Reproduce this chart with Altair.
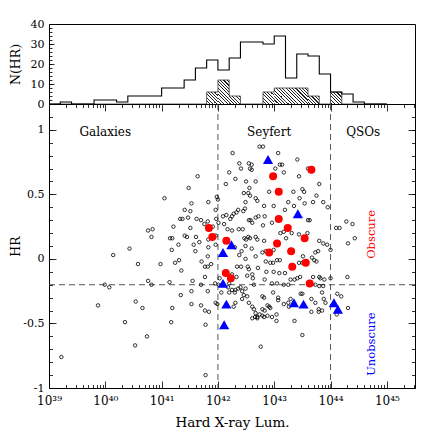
import math
import altair as alt
import pandas as pd

# ---------------- data ----------------
hist_bin_lo = [39.0, 39.2, 39.4, 39.6, 39.8, 40.0, 40.2, 40.4, 40.6, 40.8,
               41.0, 41.2, 41.4, 41.6, 41.8, 42.0, 42.2, 42.4, 42.6, 42.8,
               43.0, 43.2, 43.4, 43.6, 43.8, 44.0, 44.2, 44.4, 44.6, 44.8]
hist_all = [0, 1, 0, 0, 2, 2, 1, 4, 4, 4,
            8, 8, 12, 18, 22, 17, 23, 31, 31, 30,
            34, 13, 25, 24, 15, 6, 5, 1, 0, 0]
hist_hatched = [0, 0, 0, 0, 0, 0, 0, 0, 0, 0,
                0, 0, 0, 0, 6, 12, 4, 0, 0, 6,
                8, 8, 8, 4, 0, 6, 0, 0, 0, 0]
BIN_W = 0.2

open_pts = [
    (41.64, 0.64), (41.48, 0.55), (41.05, 0.47), (41.53, 0.43), (41.41, 0.38), (41.51, 0.37),
    (41.33, 0.31), (41.37, 0.31), (41.47, 0.32), (41.62, 0.31), (41.70, 0.30), (41.21, 0.25),
    (41.51, 0.24), (40.76, 0.22), (40.84, 0.23), (40.82, 0.17), (41.15, 0.16), (41.19, 0.16),
    (41.41, 0.18), (41.45, 0.17), (41.61, 0.17), (41.67, 0.13), (41.57, 0.11), (41.30, 0.11),
    (40.43, 0.08), (41.18, 0.07), (41.60, 0.06), (40.14, 0.03), (40.58, -0.04), (40.98, -0.04),
    (41.24, -0.03), (41.31, -0.01), (41.71, -0.02),
    (41.35, -0.09), (39.99, -0.20), (40.07, -0.22), (40.76, -0.17), (40.82, -0.20), (41.14, -0.18),
    (41.55, -0.17), (41.70, -0.20), (41.34, -0.28), (41.53, -0.25), (39.87, -0.36), (40.54, -0.33),
    (40.66, -0.38), (41.19, -0.38), (41.53, -0.35), (41.70, -0.36), (41.77, -0.40), (41.84, -0.41),
    (40.35, -0.49), (41.17, -0.49), (41.78, -0.51), (40.74, -0.60), (40.53, -0.67), (41.78, -0.90),
    (39.22, -0.76), (41.82, 0.02), (41.77, -0.06), (41.82, -0.06), (41.88, -0.04), (41.96, -0.34),
    (42.74, 0.87), (42.80, 0.87), (42.26, 0.82), (43.07, 0.82), (42.38, 0.74), (42.55, 0.74),
    (42.60, 0.73), (43.10, 0.73), (43.14, 0.73), (42.41, 0.70), (42.57, 0.70), (42.60, 0.69),
    (42.20, 0.67), (43.02, 0.70), (43.17, 0.67), (42.31, 0.62), (42.50, 0.60), (42.67, 0.60),
    (42.14, 0.58), (42.56, 0.55), (42.91, 0.52), (42.54, 0.51), (42.57, 0.49), (42.46, 0.51),
    (42.67, 0.47), (42.70, 0.45), (42.49, 0.44), (42.82, 0.41), (42.99, 0.41), (41.83, 0.44),
    (41.98, 0.48), (42.00, 0.46), (42.48, 0.39), (43.19, 0.38), (41.96, 0.38), (42.33, 0.36),
    (42.36, 0.38), (42.09, 0.33), (42.15, 0.34), (42.28, 0.35), (42.25, 0.33), (42.22, 0.31),
    (41.97, 0.31), (42.01, 0.28), (42.67, 0.32), (42.72, 0.33), (42.83, 0.33), (42.45, 0.37),
    (41.82, 0.29), (42.55, 0.30), (42.58, 0.30), (42.61, 0.28), (42.11, 0.27), (41.91, 0.25),
    (42.44, 0.23), (42.80, 0.26), (42.96, 0.28), (41.76, 0.27), (41.96, 0.18), (42.17, 0.23),
    (42.25, 0.22), (42.37, 0.23), (42.54, 0.17), (42.57, 0.16), (42.47, 0.16), (42.50, 0.15),
    (42.67, 0.17), (42.70, 0.15), (41.83, 0.15), (42.30, 0.09), (42.42, 0.06), (42.38, 0.03),
    (42.49, 0.10), (42.60, 0.08), (42.82, 0.14), (42.79, 0.05), (42.85, 0.06), (42.99, 0.07),
    (43.11, 0.20), (43.17, 0.21), (43.21, 0.16), (41.83, 0.09), (41.96, 0.11), (42.67, 0.02),
    (42.49, 0.00), (43.10, -0.01), (43.05, -0.01), (42.85, -0.02), (42.93, -0.03), (42.98, -0.03),
    (43.41, 0.77), (43.60, 0.70), (43.44, 0.64), (43.80, 0.58), (43.50, 0.54), (43.53, 0.52),
    (43.34, 0.52), (43.75, 0.49), (43.45, 0.47), (43.25, 0.44), (43.35, 0.41), (43.54, 0.43),
    (43.69, 0.44), (43.87, 0.44), (43.95, 0.40), (43.60, 0.30), (43.63, 0.30), (43.31, 0.20),
    (43.44, 0.19), (43.59, 0.20), (43.80, 0.14), (43.87, 0.12), (43.94, 0.11), (44.00, 0.07),
    (43.78, 0.06), (43.73, 0.05), (43.51, 0.02), (43.67, 0.01), (43.71, -0.01), (43.75, -0.02),
    (43.44, -0.03), (44.10, 0.24), (44.16, 0.24), (44.28, 0.29), (44.39, 0.27), (44.43, 0.16),
    (44.31, 0.12),
    (41.77, -0.14), (42.03, -0.15), (41.95, -0.19), (42.01, -0.20), (41.82, -0.25), (42.06, -0.26),
    (42.20, -0.26), (42.25, -0.24), (42.31, -0.24), (42.30, -0.26), (42.36, -0.23), (42.20, -0.19),
    (42.18, -0.22), (42.34, -0.06), (42.41, -0.06), (42.53, -0.06), (42.55, -0.08), (42.71, -0.07),
    (42.25, -0.12), (42.33, -0.14), (42.52, -0.13), (42.61, -0.12), (42.62, -0.15), (42.40, -0.22),
    (42.43, -0.25), (42.49, -0.23), (42.46, -0.28), (42.43, -0.31), (42.52, -0.29), (42.64, -0.20),
    (42.83, -0.16), (42.86, -0.10), (42.99, -0.10), (43.09, -0.11), (43.19, -0.11), (42.96, -0.19),
    (43.05, -0.19), (43.17, -0.20), (43.25, -0.20), (42.79, -0.29), (42.82, -0.30), (42.98, -0.26),
    (43.07, -0.30), (43.07, -0.32), (43.17, -0.35), (43.25, -0.34), (42.55, -0.34), (42.61, -0.37),
    (42.64, -0.39), (42.67, -0.42), (42.70, -0.45), (42.31, -0.34), (42.28, -0.37), (41.99, -0.35),
    (42.88, -0.36), (42.91, -0.37), (42.93, -0.38), (42.79, -0.39), (42.83, -0.40), (42.74, -0.43),
    (42.79, -0.44), (42.82, -0.45), (42.61, -0.46), (42.66, -0.45), (42.70, -0.46), (42.88, -0.44),
    (42.96, -0.45), (43.04, -0.43), (43.04, -0.48), (42.76, -0.68),
    (43.50, -0.03), (43.29, -0.16), (43.36, -0.16), (43.41, -0.15), (43.46, -0.14), (43.69, -0.14),
    (43.80, -0.14), (43.82, -0.15), (43.89, -0.16), (44.00, -0.15), (44.30, -0.14), (43.73, -0.20),
    (43.80, -0.21), (43.87, -0.21), (43.85, -0.26), (43.47, -0.27), (43.50, -0.27), (44.12, -0.27),
    (44.19, -0.29), (43.66, -0.31), (43.73, -0.34), (43.88, -0.31), (43.91, -0.34), (43.26, -0.37),
    (43.29, -0.31), (43.66, -0.41), (43.79, -0.39), (43.79, -0.41), (43.85, -0.40), (44.31, -0.38),
    (44.11, -0.43), (43.36, -0.48), (43.50, -0.59),
]

obscure_pts = [
    (42.98, 0.64), (43.08, 0.52), (43.08, 0.31), (43.24, 0.24), (43.05, 0.12), (42.91, 0.05),
    (41.84, 0.24), (41.90, 0.17), (42.15, 0.14), (43.30, 0.06), (43.66, 0.69), (43.54, 0.16),
    (43.56, -0.03), (43.32, -0.06), (43.63, -0.19), (42.14, -0.11), (42.23, -0.15),
]

unobscure_pts = [
    (42.89, 0.77), (43.42, 0.35), (42.24, 0.11), (42.09, 0.05), (42.09, -0.19), (42.15, -0.35),
    (42.11, -0.51), (43.35, -0.34), (43.52, -0.35), (44.06, -0.34), (44.13, -0.39),
]

x_tick_values = [39, 40, 41, 42, 43, 44, 45]
x_tick_labels = ["10³⁹", "10⁴⁰", "10⁴¹", "10⁴²", "10⁴³", "10⁴⁴", "10⁴⁵"]
y_tick_values = [-1, -0.5, 0, 0.5, 1]
y_tick_labels = ["-1", "-0.5", "0", "0.5", "1"]
hist_tick_values = [0, 10, 20, 30, 40]

class_bounds = [42, 44]
hr_split = [-0.2]

region_text = ["Galaxies", "Seyfert", "QSOs"]
region_x = [40.0, 42.91, 44.58]
region_y = [0.98, 0.98, 0.98]

class_text = ["Obscure", "Unobscure"]
class_x = [44.74, 44.74]
class_y = [0.19, -0.66]
class_color = ["#ff0000", "#0000ff"]

# ---------------- layout / style ----------------
FONT = "DejaVu Serif"
W = 366
H_HIST = 80
H_SC = 284
X_DOM = [39, 45.5]
Y_DOM = [-1, 1.2]
H_DOM = [0, 40]
PX_PER_X = W / (X_DOM[1] - X_DOM[0])

x_minor = [d + math.log10(k) for d in range(39, 46) for k in range(2, 10)
           if d + math.log10(k) <= X_DOM[1]]
y_minor = [round(-1 + 0.1 * i, 1) for i in range(23)]
hist_minor = list(range(0, 41, 2))

xscale = alt.Scale(domain=X_DOM, nice=False, zero=False)
yscale = alt.Scale(domain=Y_DOM, nice=False, zero=False)
hscale = alt.Scale(domain=H_DOM, nice=False)


def label_expr(values, labels):
    expr = "''"
    for v, lab in reversed(list(zip(values, labels))):
        expr = f"datum.value == {v} ? '{lab}' : ({expr})"
    return expr


def tick_axis(orient, offset, values, size):
    return alt.Axis(orient=orient, offset=offset, values=values, tickSize=size,
                    tickWidth=0.8, tickColor="black", labels=False, domain=False,
                    grid=False, title=None)


def hatch_gradient(x0, w, h, panel_h, spacing=3.3, lw=1.1):
    span = w + h
    shift = x0 - (panel_h - h)
    c = (-shift) % spacing - spacing
    stops = [alt.GradientStop(color="white", offset=0)]
    while c < span:
        a = max(c, 0) / span
        b = min(max(c + lw, 0), span) / span
        if b > a:
            stops += [alt.GradientStop(color="white", offset=a),
                      alt.GradientStop(color="#222222", offset=a),
                      alt.GradientStop(color="#222222", offset=b),
                      alt.GradientStop(color="white", offset=b)]
        c += spacing
    stops.append(alt.GradientStop(color="white", offset=1))
    lam = span / (w * w + h * h)
    return alt.LinearGradient(gradient="linear", stops=stops,
                              x1=0, y1=1, x2=lam * w, y2=1 - lam * h)


# ---------------- histogram panel ----------------
hist_layers = []
for lo, n in zip(hist_bin_lo, hist_hatched):
    if n <= 0:
        continue
    w_px = BIN_W * PX_PER_X
    h_px = n * H_HIST / (H_DOM[1] - H_DOM[0])
    x0_px = (lo - X_DOM[0]) * PX_PER_X
    df_bin = pd.DataFrame({"lo": [lo], "hi": [lo + BIN_W], "n": [n]})
    hist_layers.append(
        alt.Chart(df_bin).mark_rect(fill=hatch_gradient(x0_px, w_px, h_px, H_HIST)).encode(
            x=alt.X("lo:Q", scale=xscale, axis=None),
            x2="hi:Q",
            y=alt.Y("n:Q", scale=hscale, axis=None),
            y2=alt.datum(0),
        )
    )

edges = hist_bin_lo + [hist_bin_lo[-1] + BIN_W]
df_step_all = pd.DataFrame({"lum": edges, "n": hist_all + [hist_all[-1]]})
df_step_hat = pd.DataFrame({"lum": edges, "n": hist_hatched + [hist_hatched[-1]]})

hist_y_axis = alt.Axis(orient="left", values=hist_tick_values, ticks=False, tickSize=0,
                       domain=False, grid=False, title="N(HR)", labelPadding=5,
                       titlePadding=3, minExtent=24, maxExtent=24, labelFontSize=11,
                       titleFontSize=12.5, labelFlush=False, labelOverlap=False)

hat_line = alt.Chart(df_step_hat).mark_line(interpolate="step-after", color="#222222",
                                             strokeWidth=0.7).encode(
    x=alt.X("lum:Q", scale=xscale, axis=None),
    y=alt.Y("n:Q", scale=hscale, axis=None),
)
all_line = alt.Chart(df_step_all).mark_line(interpolate="step-after", color="black",
                                             strokeWidth=1.1).encode(
    x=alt.X("lum:Q", scale=xscale, axis=None),
    y=alt.Y("n:Q", scale=hscale, axis=hist_y_axis),
)
h_ghost1 = alt.Chart(df_step_all).mark_point(opacity=0).encode(
    x=alt.X("lum:Q", scale=xscale, axis=None),
    y=alt.Y("n:Q", scale=hscale, axis=tick_axis("right", -W, hist_tick_values, 5)),
)
h_ghost2 = alt.Chart(df_step_all).mark_point(opacity=0).encode(
    x=alt.X("lum:Q", scale=xscale, axis=None),
    y=alt.Y("n:Q", scale=hscale, axis=tick_axis("right", -W, hist_minor, 3)),
)

hist_chart = alt.layer(*hist_layers, hat_line, all_line, h_ghost1, h_ghost2).resolve_axis(
    x="independent", y="independent").properties(width=W, height=H_HIST)

# ---------------- scatter panel ----------------
df_open = pd.DataFrame(open_pts, columns=["lum", "hr"])
df_obs = pd.DataFrame(obscure_pts, columns=["lum", "hr"])
df_unobs = pd.DataFrame(unobscure_pts, columns=["lum", "hr"])

x_lab_axis = alt.Axis(orient="bottom", values=x_tick_values,
                      labelExpr=label_expr(x_tick_values, x_tick_labels),
                      ticks=False, tickSize=0, domain=False, grid=False,
                      title="Hard X-ray Lum.", labelFontSize=12, labelPadding=7,
                      titlePadding=9, titleFontSize=13.5, labelFlush=False, labelOverlap=False)
y_lab_axis = alt.Axis(orient="left", values=y_tick_values,
                      labelExpr=label_expr(y_tick_values, y_tick_labels),
                      ticks=False, tickSize=0, domain=False, grid=False, title="HR",
                      labelPadding=5, titlePadding=3, minExtent=24, maxExtent=24,
                      labelFontSize=11, titleFontSize=12.5, labelFlush=False, labelOverlap=False)

vrules = alt.Chart(pd.DataFrame({"lum": class_bounds})).mark_rule(
    strokeDash=[6, 4], color="#444444", strokeWidth=0.9).encode(
    x=alt.X("lum:Q", scale=xscale, axis=None))
hrule = alt.Chart(pd.DataFrame({"hr": hr_split})).mark_rule(
    strokeDash=[6, 4], color="#444444", strokeWidth=0.9).encode(
    y=alt.Y("hr:Q", scale=yscale, axis=None))

open_layer = alt.Chart(df_open).mark_point(shape="circle", filled=False, size=12,
                                           strokeWidth=0.8, color="black", opacity=1).encode(
    x=alt.X("lum:Q", scale=xscale, axis=x_lab_axis),
    y=alt.Y("hr:Q", scale=yscale, axis=y_lab_axis),
)
obs_layer = alt.Chart(df_obs).mark_circle(size=64, color="#ff0000", opacity=1).encode(
    x=alt.X("lum:Q", scale=xscale, axis=None),
    y=alt.Y("hr:Q", scale=yscale, axis=None),
)
unobs_layer = alt.Chart(df_unobs).mark_point(shape="triangle-up", filled=True, size=105,
                                             color="#0000ff", opacity=1).encode(
    x=alt.X("lum:Q", scale=xscale, axis=None),
    y=alt.Y("hr:Q", scale=yscale, axis=None),
)

df_region = pd.DataFrame({"t": region_text, "lum": region_x, "hr": region_y})
region_layer = alt.Chart(df_region).mark_text(font=FONT, fontSize=12, color="black",
                                              align="center", baseline="middle").encode(
    x=alt.X("lum:Q", scale=xscale, axis=None),
    y=alt.Y("hr:Q", scale=yscale, axis=None),
    text="t:N",
)
df_class = pd.DataFrame({"t": class_text, "lum": class_x, "hr": class_y, "c": class_color})
class_layer = alt.Chart(df_class).mark_text(font=FONT, fontSize=11.5, angle=270,
                                            align="center", baseline="middle").encode(
    x=alt.X("lum:Q", scale=xscale, axis=None),
    y=alt.Y("hr:Q", scale=yscale, axis=None),
    text="t:N",
    color=alt.Color("c:N", scale=None),
)


def ghost(xax, yax):
    return alt.Chart(df_open).mark_point(opacity=0).encode(
        x=alt.X("lum:Q", scale=xscale, axis=xax),
        y=alt.Y("hr:Q", scale=yscale, axis=yax),
    )


g1 = ghost(tick_axis("top", -H_SC, x_tick_values, 7), tick_axis("right", -W, y_tick_values, 7))
g2 = ghost(tick_axis("top", -H_SC, x_minor, 3.5), tick_axis("right", -W, y_minor, 3.5))
g3 = ghost(tick_axis("bottom", -H_SC, x_tick_values, 7), tick_axis("left", -W, y_tick_values, 7))
g4 = ghost(tick_axis("bottom", -H_SC, x_minor, 3.5), tick_axis("left", -W, y_minor, 3.5))

scatter_chart = alt.layer(vrules, hrule, open_layer, obs_layer, unobs_layer,
                          region_layer, class_layer, g1, g2, g3, g4).resolve_axis(
    x="independent", y="independent").properties(width=W, height=H_SC)

chart = alt.vconcat(hist_chart, scatter_chart, spacing=0, bounds="flush").properties(
    padding={"left": 0, "top": 9, "right": 5, "bottom": 2}
).configure_view(
    stroke="black", strokeWidth=1
).configure_axis(
    labelFont=FONT, titleFont=FONT, labelColor="black", titleColor="black",
    titleFontWeight="normal"
).configure_text(font=FONT)

chart.save("out.html", embed_options={"renderer": "svg", "actions": False})
